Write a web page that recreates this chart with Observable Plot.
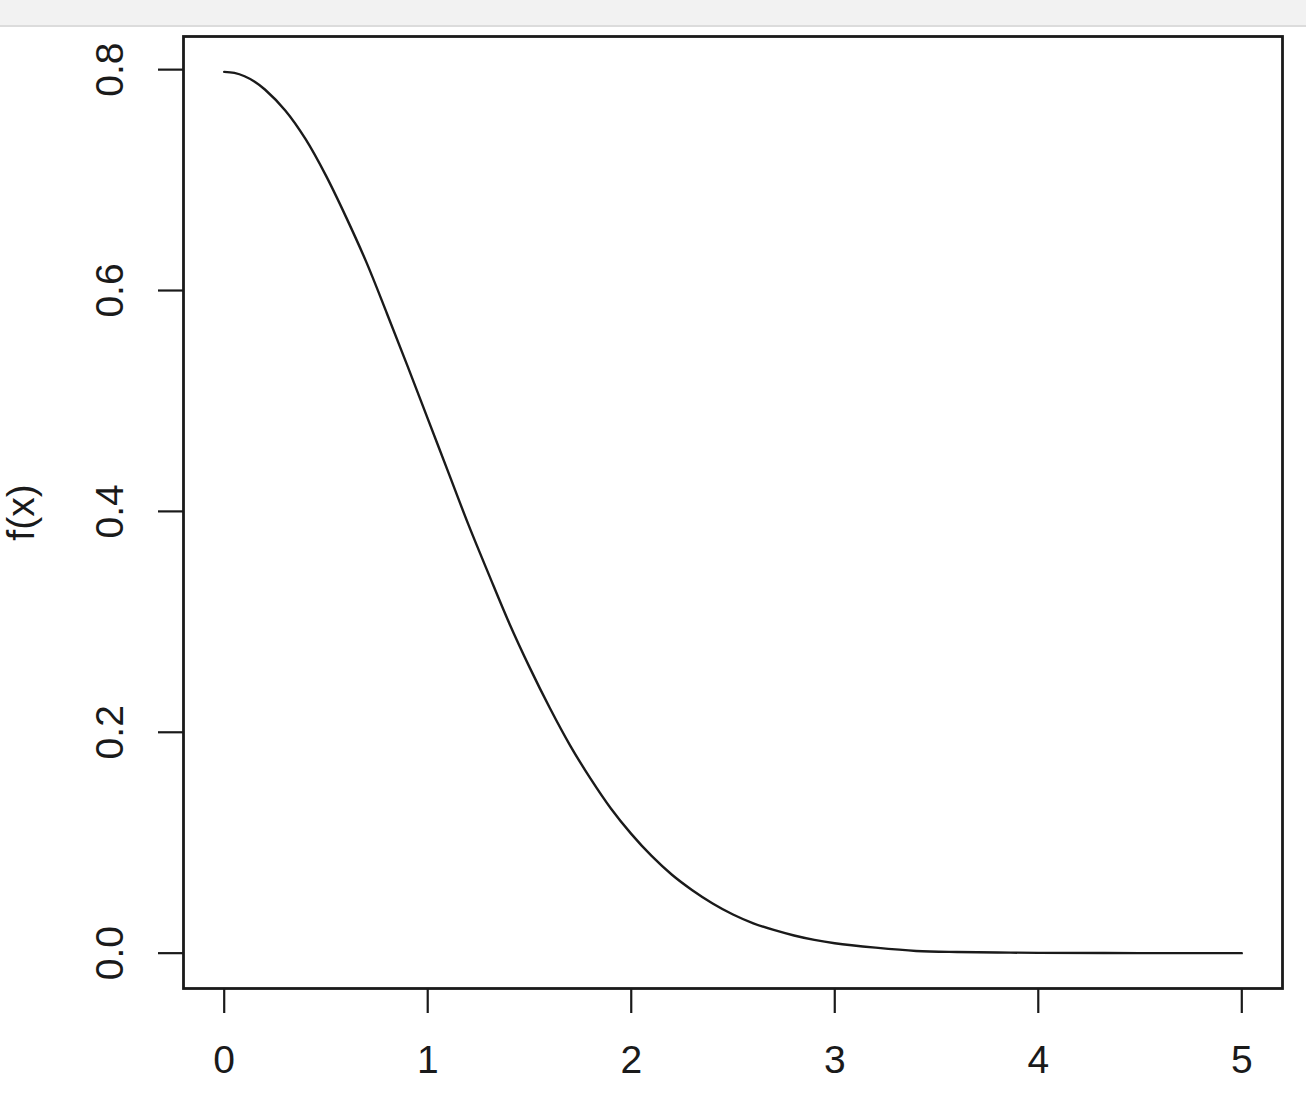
<!DOCTYPE html>
<html><head><meta charset="utf-8">
<script src="https://cdn.jsdelivr.net/npm/d3@7"></script>
<script src="https://cdn.jsdelivr.net/npm/@observablehq/plot@0.6"></script>
<style>
html,body{margin:0;padding:0;background:#fff;overflow:hidden}
#bar{height:25px;background:#f2f2f2;border-bottom:2px solid #dcdcdc}
#chart svg{display:block}
</style></head><body>
<div id="bar"></div>
<div id="chart"></div>
<script>
const xValues = [0.0,0.05,0.1,0.15,0.2,0.3,0.4,0.5,0.6,0.7,0.8,0.9,1.0,1.1,1.2,1.3,1.4,1.5,1.6,1.7,1.8,1.9,2.0,2.1,2.2,2.3,2.4,2.5,2.6,2.7,2.8,2.9,3.0,3.2,3.4,3.6,3.8,4.0,4.5,5.0];
const fValues = [0.798,0.797,0.794,0.789,0.782,0.763,0.737,0.704,0.666,0.625,0.579,0.532,0.484,0.436,0.388,0.343,0.299,0.259,0.222,0.188,0.158,0.131,0.108,0.088,0.071,0.057,0.045,0.035,0.027,0.021,0.016,0.012,0.009,0.005,0.002,0.001,0.0006,0.0003,0.00003,0.0];
const xTicks = [0,1,2,3,4,5];
const yTicks = [0,0.2,0.4,0.6,0.8];
const yLabel = "f(x)";

const data = xValues.map((x,i)=>({x, y: fValues[i]}));
const font = "'Liberation Sans', Arial, Helvetica, sans-serif";

const chart = Plot.plot({
  width:1306, height:1069,
  marginLeft:183, marginRight:24, marginTop:9, marginBottom:108,
  x:{domain:[-0.2,5.2]},
  y:{domain:[-0.032,0.83]},
  style:{fontFamily:font, fontSize:"39px", color:"#1a1a1a", background:"white", overflow:"visible"},
  marks:[
    Plot.line(data,{x:"x", y:"y", stroke:"#1a1a1a", strokeWidth:2.4, curve:"catmull-rom"}),
    Plot.frame({stroke:"#1a1a1a", strokeWidth:2.8}),
    Plot.axisX({ticks:xTicks, tickSize:25, tickPadding:32, fontSize:39, label:null, tickFormat:d=>String(d), stroke:"#1a1a1a", strokeWidth:2.2}),
    Plot.axisY({ticks:yTicks, tickSize:25, tickFormat:()=>"", label:null, stroke:"#1a1a1a", strokeWidth:2.2}),
    Plot.text(yTicks,{y:d=>d, frameAnchor:"left", dx:-73, rotate:-90, textAnchor:"middle", lineAnchor:"middle", text:d=>d.toFixed(1), fontSize:39, fill:"#1a1a1a"}),
    Plot.text([yLabel],{frameAnchor:"left", dx:-162, rotate:-90, textAnchor:"middle", lineAnchor:"middle", text:d=>d, fontSize:39, fill:"#1a1a1a"})
  ]
});
document.getElementById("chart").appendChild(chart);
</script>
</body></html>
